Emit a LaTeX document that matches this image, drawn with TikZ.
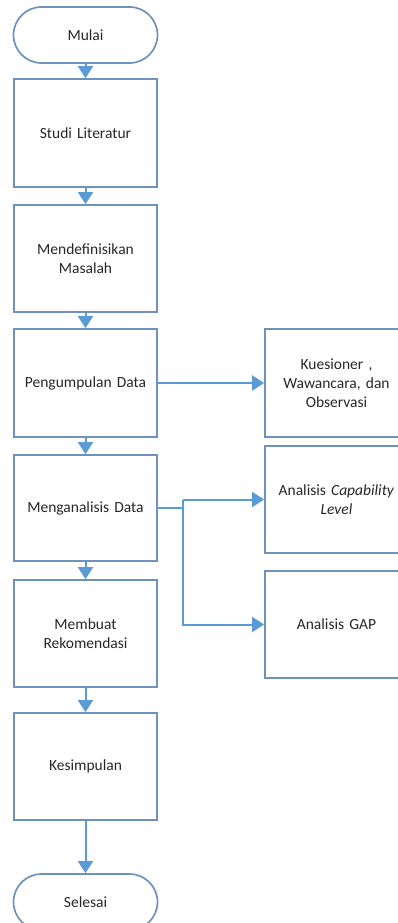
\documentclass[tikz,border=0pt]{standalone}
\usepackage{fontspec}
\setmainfont{Carlito}
\usetikzlibrary{arrows.meta}
\definecolor{boxline}{RGB}{110,145,190}
\definecolor{conn}{RGB}{91,155,213}
\begin{document}
\begin{tikzpicture}[x=1pt,y=-1pt,
  every node/.style={font=\fontsize{15.5}{19}\selectfont, text=black!85, align=center},
  procbox/.style={draw=boxline, line width=1.7pt, minimum width=143pt, inner sep=2pt, text width=137pt},
  termbox/.style={draw=boxline, line width=1.7pt, rounded corners=28pt, minimum width=144pt, minimum height=56pt},
  flow/.style={draw=conn, line width=2pt, -{Triangle[width=15pt,length=12pt]}}]
\useasboundingbox (0,0) rectangle (398,923);
\node[termbox] (mulai) at (85.5,35) {Mulai};
\node[procbox, minimum height=108pt] (studi) at (85.5,133) {Studi Literatur};
\node[procbox, minimum height=107pt] (def) at (85.5,258.5) {Mendefinisikan\\Masalah};
\node[procbox, minimum height=108pt] (kump) at (85.5,383) {Pengumpulan Data};
\node[procbox, minimum height=106pt] (anal) at (85.5,508) {Menganalisis Data};
\node[procbox, minimum height=107pt] (rek) at (85.5,633.5) {Membuat\\Rekomendasi};
\node[procbox, minimum height=107pt] (kes) at (85.5,766.5) {Kesimpulan};
\node[termbox] (selesai) at (85.5,902) {Selesai};
\node[procbox, minimum height=108pt] (kues) at (336.5,383) {Kuesioner ,\\Wawancara, dan\\Observasi};
\node[procbox, minimum height=107pt] (cap) at (336.5,499.5) {Analisis \textit{Capability}\\\textit{Level}};
\node[procbox, minimum height=107pt] (gap) at (336.5,624.5) {Analisis GAP};
\coordinate (j) at (183,499.5);
\coordinate (jm) at (183,508);
\coordinate (jg) at (183,624.5);
\draw[flow] (mulai) -- (studi);
\draw[flow] (studi) -- (def);
\draw[flow] (def) -- (kump);
\draw[flow] (kump) -- (anal);
\draw[flow] (anal) -- (rek);
\draw[flow] (rek) -- (kes);
\draw[flow] (kes) -- (selesai);
\draw[flow] (kump) -- (kues);
\draw[draw=conn, line width=2pt] (anal.east) -- (jm) -- (j);
\draw[flow] (j) -- (cap);
\draw[flow] (j) -- (jg) -- (gap);
\end{tikzpicture}
\end{document}
